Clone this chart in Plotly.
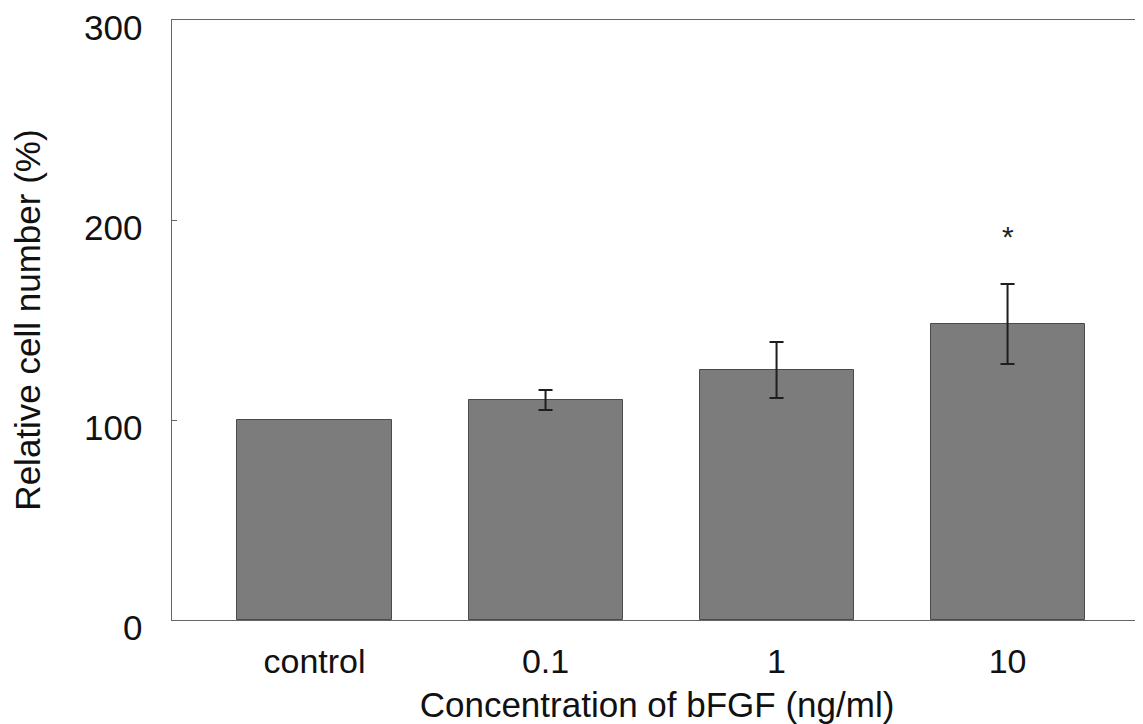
import plotly.graph_objects as go

categories = ["control", "0.1", "1", "10"]
values = [100, 110, 125, 148]
errors = [0, 5, 14, 20]
significance = ["", "", "", "*"]
y_ticks = [0, 100, 200, 300]

positions = list(range(len(categories)))
font = "Liberation Sans, Arial, sans-serif"

fig = go.Figure()
fig.add_trace(go.Bar(
    x=positions,
    y=values,
    width=0.667,
    marker=dict(color="#7c7c7c", line=dict(color="#4a4a4a", width=1)),
    showlegend=False,
))

err_idx = [i for i, e in enumerate(errors) if e > 0]
fig.add_trace(go.Scatter(
    x=[positions[i] for i in err_idx],
    y=[values[i] for i in err_idx],
    mode="markers",
    marker=dict(size=1, color="rgba(0,0,0,0)"),
    error_y=dict(
        type="data",
        array=[errors[i] for i in err_idx],
        visible=True,
        color="#1e1e1e",
        thickness=2,
        width=7,
    ),
    showlegend=False,
    hoverinfo="skip",
))

for p, v, e, s in zip(positions, values, errors, significance):
    if s:
        fig.add_annotation(
            x=p, y=v + e + 24, text=s, showarrow=False,
            font=dict(family=font, size=30, color="#222"),
            xref="x", yref="y",
        )

# y tick labels (drawn slightly below their ticks, as in the original)
for t in y_ticks:
    fig.add_annotation(
        x=0, xref="paper", y=t, yref="y",
        text=str(t), showarrow=False,
        xanchor="right", yanchor="middle",
        xshift=-28, yshift=-7,
        font=dict(family=font, size=35, color="#111"),
    )

fig.update_layout(
    width=1135,
    height=716,
    margin=dict(l=164, r=1, t=12, b=104),
    paper_bgcolor="white",
    plot_bgcolor="white",
    font=dict(family=font, size=35, color="#111"),
    bargap=0,
)

fig.update_xaxes(
    range=[-0.617, 3.582],
    tickvals=positions,
    ticktext=categories,
    showgrid=False,
    zeroline=False,
    showline=True,
    linecolor="#666",
    linewidth=1,
    mirror=True,
    ticks="",
    automargin=False,
    ticklabelstandoff=11,
    tickfont=dict(size=34),
    title=dict(text="Concentration of bFGF (ng/ml)", font=dict(size=35), standoff=14),
)

fig.update_yaxes(
    range=[0, 300],
    tickvals=y_ticks,
    showticklabels=False,
    showgrid=False,
    zeroline=False,
    showline=True,
    linecolor="#666",
    linewidth=1,
    mirror=True,
    ticks="inside",
    ticklen=5,
    tickcolor="#666",
    automargin=False,
    title=dict(text="Relative cell number (%)", font=dict(size=35), standoff=123),
)

fig.write_html("out.html")
